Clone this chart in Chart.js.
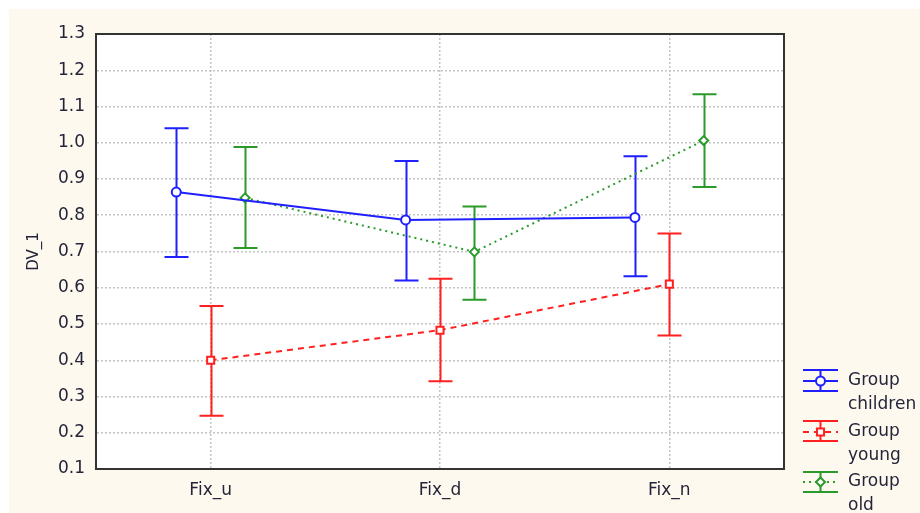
<!DOCTYPE html>
<html>
<head>
<meta charset="utf-8">
<script src="https://cdn.jsdelivr.net/npm/chart.js@4/dist/chart.umd.min.js"></script>
<style>
  body { margin: 0; background: #ffffff; }
  #wrap { width: 920px; height: 513px; }
</style>
</head>
<body>
<div id="wrap"><canvas id="chart" width="920" height="513"></canvas></div>
<script>
// Data
const categories = ['Fix_u', 'Fix_d', 'Fix_n'];
const yTicks = [0.1, 0.2, 0.3, 0.4, 0.5, 0.6, 0.7, 0.8, 0.9, 1.0, 1.1, 1.2, 1.3];

const childrenMean = [0.864, 0.787, 0.794];
const childrenLow = [0.685, 0.620, 0.632];
const childrenHigh = [1.040, 0.950, 0.963];

const youngMean = [0.400, 0.483, 0.610];
const youngLow = [0.247, 0.342, 0.468];
const youngHigh = [0.550, 0.625, 0.750];

const oldMean = [0.848, 0.699, 1.006];
const oldLow = [0.710, 0.567, 0.878];
const oldHigh = [0.988, 0.824, 1.134];

// horizontal shift of each group around its category
const groupShift = [-0.15, 0, 0.15];

const TEXT = '#25253a';
const BLUE = '#1f1fff';
const RED = '#ff2020';
const GREEN = '#2a9a2a';

Chart.defaults.font.family = '"DejaVu Sans", sans-serif';
Chart.defaults.font.size = 17;
Chart.defaults.color = TEXT;

function points(means, shift) {
  return means.map((v, i) => ({ x: i + shift, y: v }));
}

function groupDataset(label, means, low, high, shift, color, dash, style, radius) {
  return {
    label: label,
    data: points(means, shift),
    low: low,
    high: high,
    showLine: true,
    borderColor: color,
    borderWidth: 2,
    borderDash: dash,
    pointStyle: style,
    pointRadius: radius,
    pointBorderWidth: 2,
    pointBorderColor: color,
    pointBackgroundColor: '#ffffff',
    tension: 0
  };
}

// Background, error bars, plot frame and legend
const decorations = {
  id: 'decorations',
  beforeDraw(chart) {
    const ctx = chart.ctx;
    ctx.save();
    ctx.fillStyle = '#fef9ef';
    ctx.fillRect(9, 9, chart.width - 9, chart.height - 9);
    const a = chart.chartArea;
    ctx.fillStyle = '#ffffff';
    ctx.fillRect(a.left, a.top, a.right - a.left, a.bottom - a.top);
    ctx.restore();
  },
  beforeDatasetsDraw(chart) {
    const ctx = chart.ctx;
    const xs = chart.scales.x, ys = chart.scales.y;
    ctx.save();
    ctx.lineWidth = 2;
    chart.data.datasets.forEach(ds => {
      ctx.strokeStyle = ds.borderColor;
      ds.data.forEach((p, i) => {
        const px = Math.round(xs.getPixelForValue(p.x)) + 0.5;
        const yl = ys.getPixelForValue(ds.low[i]);
        const yh = ys.getPixelForValue(ds.high[i]);
        ctx.beginPath();
        ctx.moveTo(px, yl);
        ctx.lineTo(px, yh);
        ctx.moveTo(px - 12, yl);
        ctx.lineTo(px + 12, yl);
        ctx.moveTo(px - 12, yh);
        ctx.lineTo(px + 12, yh);
        ctx.stroke();
      });
    });
    ctx.restore();
  },
  afterDraw(chart) {
    const ctx = chart.ctx;
    const a = chart.chartArea;
    ctx.save();
    ctx.strokeStyle = '#333333';
    ctx.lineWidth = 2;
    ctx.strokeRect(a.left, a.top, a.right - a.left, a.bottom - a.top);

    // legend
    const rows = [
      { ds: chart.data.datasets[0], sub: 'children', top: 370, mid: 381, bot: 391 },
      { ds: chart.data.datasets[1], sub: 'young', top: 421, mid: 432, bot: 441 },
      { ds: chart.data.datasets[2], sub: 'old', top: 472, mid: 482, bot: 492 }
    ];
    const x0 = 803, x1 = 838, xc = 820.5;
    rows.forEach(r => {
      ctx.strokeStyle = r.ds.borderColor;
      ctx.lineWidth = 2;
      ctx.setLineDash([]);
      ctx.beginPath();
      ctx.moveTo(x0, r.top); ctx.lineTo(x1, r.top);
      ctx.moveTo(x0, r.bot); ctx.lineTo(x1, r.bot);
      ctx.moveTo(xc, r.top); ctx.lineTo(xc, r.bot);
      ctx.stroke();
      ctx.setLineDash(r.ds.borderDash || []);
      ctx.beginPath();
      ctx.moveTo(x0, r.mid); ctx.lineTo(x1, r.mid);
      ctx.stroke();
      ctx.setLineDash([]);
      ctx.fillStyle = '#ffffff';
      Chart.helpers.drawPoint(ctx, {
        pointStyle: r.ds.pointStyle,
        radius: r.ds.pointRadius,
        rotation: 0,
        borderWidth: 2
      }, xc, r.mid);
      ctx.fillStyle = TEXT;
      ctx.font = '17px "DejaVu Sans", sans-serif';
      ctx.textBaseline = 'middle';
      ctx.textAlign = 'left';
      ctx.fillText('Group', 848, r.mid);
      ctx.fillText(r.sub, 848, r.mid + 24);
    });
    ctx.restore();
  }
};

new Chart(document.getElementById('chart'), {
  type: 'scatter',
  data: {
    datasets: [
      groupDataset('Group children', childrenMean, childrenLow, childrenHigh, groupShift[0], BLUE, [], 'circle', 4.5),
      groupDataset('Group young', youngMean, youngLow, youngHigh, groupShift[1], RED, [6, 5], 'rect', 5),
      groupDataset('Group old', oldMean, oldLow, oldHigh, groupShift[2], GREEN, [2, 4], 'rectRot', 4.5)
    ]
  },
  options: {
    responsive: false,
    animation: false,
    layout: { padding: { left: 0, top: 34, right: 136, bottom: 0 } },
    plugins: {
      legend: { display: false },
      tooltip: { enabled: false }
    },
    scales: {
      x: {
        type: 'linear',
        min: -0.5,
        max: 2.5,
        afterBuildTicks: s => { s.ticks = categories.map((c, i) => ({ value: i })); },
        afterFit: s => { s.height = 44; },
        ticks: {
          padding: 11,
          callback: v => categories[v]
        },
        grid: { color: '#c4c4c4', drawTicks: false, lineWidth: 1.5 },
        border: { color: '#333333', width: 2, dash: [2, 2] }
      },
      y: {
        min: 0.1,
        max: 1.3,
        afterBuildTicks: s => { s.ticks = yTicks.map(v => ({ value: v })); },
        afterFit: s => { s.width = 96; },
        ticks: {
          padding: 11,
          callback: v => Number(v).toFixed(1)
        },
        title: {
          display: true,
          text: 'DV_1',
          font: { size: 15 },
          padding: { top: 25, bottom: 0 }
        },
        grid: { color: '#c4c4c4', drawTicks: false, lineWidth: 1.5 },
        border: { color: '#333333', width: 2, dash: [2, 2] }
      }
    }
  },
  plugins: [decorations]
});
</script>
</body>
</html>
